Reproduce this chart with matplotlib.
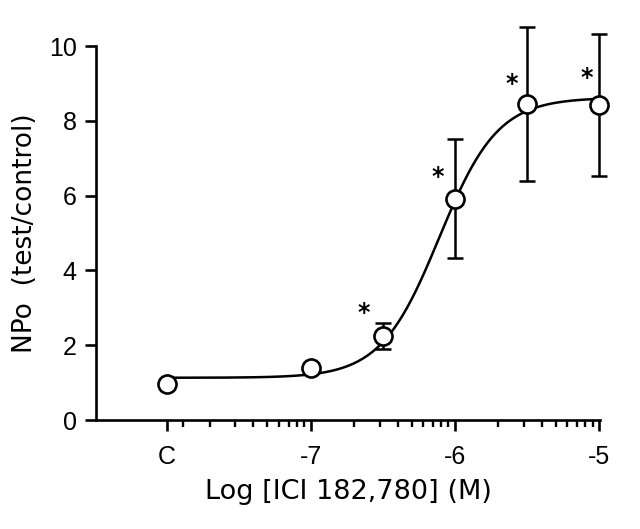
import numpy as np
import matplotlib
matplotlib.use("Agg")
import matplotlib.pyplot as plt

# Data
x_labels = ["C", "-7", "-6", "-5"]
x_label_pos = [-8, -7, -6, -5]
log_conc = [-8, -7, -6.5, -6, -5.5, -5]
npo_mean = [0.97, 1.38, 2.24, 5.92, 8.45, 8.43]
npo_err = [0.0, 0.0, 0.35, 1.6, 2.06, 1.9]
star_x = [-6.63, -6.12, -5.61, -5.09]
star_y = [2.85, 6.5, 8.98, 9.15]
# Sigmoid fit parameters
fit_bottom = 1.13
fit_top = 8.62
fit_logec50 = -6.11
fit_hill = 2.14

plt.rcParams['font.family'] = ['Liberation Sans', 'DejaVu Sans']

fig = plt.figure(figsize=(6.4, 5.29), dpi=100)
ax = fig.add_axes([0.15, 0.206, 0.7875, 0.707])

xs = np.linspace(-8, -5, 300)
ys = fit_bottom + (fit_top - fit_bottom) / (1 + 10 ** ((fit_logec50 - xs) * fit_hill))
ax.plot(xs, ys, color='black', lw=1.8, zorder=2, clip_on=False)

ax.errorbar(log_conc, npo_mean, yerr=npo_err, fmt='none', ecolor='black',
            elinewidth=1.8, capsize=6, capthick=1.8, zorder=3, clip_on=False)
ax.plot(log_conc, npo_mean, 'o', ms=13, mfc='white', mec='black', mew=1.9,
        zorder=4, clip_on=False)

for sx, sy in zip(star_x, star_y):
    ax.text(sx, sy, '*', ha='center', va='center', fontsize=17, fontweight='bold',
            family=['DejaVu Sans'])

ax.set_xlim(-8.49, -4.995)
ax.set_ylim(0, 10)
ax.set_yticks([0, 2, 4, 6, 8, 10])
ax.set_xticks(x_label_pos)
ax.set_xticklabels(x_labels)

minor = []
for d in [-8, -7, -6]:
    for m in range(2, 10):
        minor.append(d + np.log10(m))
minor.append(-7.89)
ax.set_xticks(minor, minor=True)

for s in ['top', 'right']:
    ax.spines[s].set_visible(False)
for s in ['left', 'bottom']:
    ax.spines[s].set_linewidth(1.9)

ax.tick_params(axis='both', which='major', direction='out', length=8, width=1.9,
               labelsize=18, pad=6)
ax.tick_params(axis='x', which='major', pad=10)
ax.tick_params(axis='x', which='minor', direction='out', length=5, width=1.7)

ax.set_xlabel('Log [ICI 182,780] (M)', fontsize=19.5, labelpad=7,
              family=['DejaVu Sans'])
ax.set_ylabel('NPo  (test/control)', fontsize=19, labelpad=8,
              family=['DejaVu Sans'])

fig.savefig('out.png', dpi=100)
